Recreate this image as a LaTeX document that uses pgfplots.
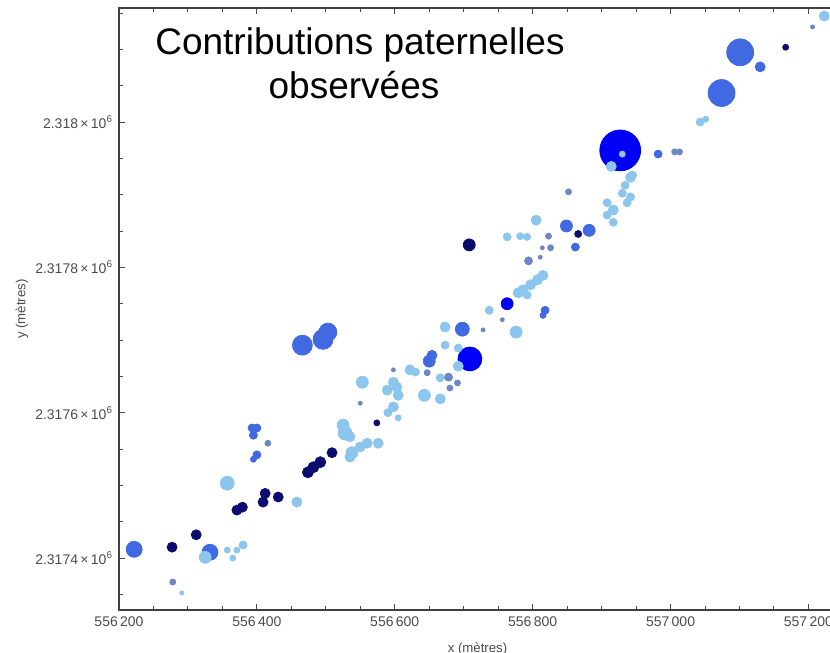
\documentclass[border=0pt]{standalone}
\usepackage{fontspec}
\setmainfont{Liberation Sans}
\usepackage{pgfplots}
\pgfplotsset{compat=1.18}
\usepackage{pgfplotstable}

\definecolor{cL}{RGB}{140,198,238}
\definecolor{cM}{RGB}{65,105,225}
\definecolor{cB}{RGB}{0,0,245}
\definecolor{cN}{RGB}{12,12,110}
\definecolor{cG}{RGB}{110,135,195}

\pgfplotsset{bub/.style={scatter, only marks, mark=*,
  scatter/use mapped color={draw=#1, fill=#1},
  visualization depends on={0.5*\thisrow{s} \as \rad},
  scatter/@pre marker code/.append style={/tikz/mark size=\rad}}}

\pgfplotstableread{
x y s
556930 2317956 3
556914 2317939 5
556942 2317924 5
556945 2317927 4
556934 2317913 4
556930 2317902 4
556942 2317897 4
556937 2317889 4
556908 2317889 4
556917 2317879 5
556908 2317872 4
556917 2317862 4
557043 2318000 4
557051 2318004 3
557223 2318146 5
556805 2317865 5
556763 2317842 4
556782 2317843 3.5
556792 2317842 3.5
556815 2317789 5
556807 2317783 5
556797 2317776 5
556786 2317769 5
556779 2317765 5
556792 2317762 4
556737 2317741 4
556776 2317711 6
556673 2317718 5
556673 2317693 4
556692 2317689 4
556692 2317664 5
556622 2317659 5
556630 2317656 4
556666 2317648 4
556643 2317624 6
556666 2317619 5
556553 2317642 6
556598 2317642 5
556603 2317635 5
556589 2317631 5
556605 2317624 5
556598 2317608 5
556590 2317600 4
556605 2317593 3
556525 2317583 6
556528 2317572 7
556535 2317567 5
556560 2317558 5
556576 2317558 5
556550 2317553 5
556538 2317545 6
556535 2317539 5
556357 2317503 7
556458 2317477 5
556325 2317401 6
556357 2317411 3
556371 2317411 3
556380 2317418 4
556365 2317400 3
556291 2317352 2
}\dataL

\pgfplotstableread{
x y s
557074 2318040 13.5
557101 2318096 13.5
557130 2318076 5
556982 2317956 4
556849 2317857 6
556882 2317851 6
556862 2317828 4
556698 2317715 7
556650 2317671 6
556654 2317679 5
556466 2317693 10
556496 2317701 10
556503 2317711 9
556222 2317412 8
556332 2317408 8
556393 2317579 4
556400 2317579 4
556395 2317569 4
556400 2317542 4
556395 2317536 3
556818 2317741 4
556815 2317734 3
}\dataM

\pgfplotstableread{
x y s
556927 2317961 20.5
556709 2317674 12
556763 2317750 6
}\dataB

\pgfplotstableread{
x y s
557167 2318103 3
556866 2317846 3.5
556708 2317831 6
556574 2317586 3
556509 2317545 5
556492 2317532 5.5
556482 2317525 5.5
556474 2317518 5.5
556412 2317489 5
556409 2317477 5
556431 2317484 5
556371 2317466 5
556379 2317470 5
556312 2317432 5
556277 2317415 5
}\dataN

\pgfplotstableread{
x y s
557206 2318131 2
557006 2317959 3
557013 2317959 3
556852 2317904 3
556823 2317843 3
556826 2317827 3
556814 2317827 2
556811 2317814 2
556794 2317809 4
556756 2317728 2
556728 2317714 2
556647 2317655 3
556678 2317649 4
556691 2317641 3
556680 2317634 3
556598 2317659 2
556550 2317613 2
556416 2317558 3
556278 2317367 3
}\dataG

\begin{document}
\begin{tikzpicture}
\begin{axis}[
  at={(0,0)}, anchor=south west,
  scale only axis, width=358.5bp, height=301bp,
  xmin=556200, xmax=557240, ymin=2317328.5, ymax=2318157,
  scaled ticks=false,
  xtick={556200,556400,556600,556800,557000,557200},
  xticklabels={556\,200,556\,400,556\,600,556\,800,557\,000,557\,200},
  ytick={2317400,2317600,2317800,2318000},
  yticklabels={2.3174\,\texttimes\,10\textsuperscript{6},2.3176\,\texttimes\,10\textsuperscript{6},2.3178\,\texttimes\,10\textsuperscript{6},2.318\,\texttimes\,10\textsuperscript{6}},
  minor xtick={556250,556300,556350,556450,556500,556550,556650,556700,556750,556850,556900,556950,557050,557100,557150},
  minor ytick={2317350,2317450,2317500,2317550,2317650,2317700,2317750,2317850,2317900,2317950,2318050,2318100,2318150},
  tick align=inside,
  major tick length=3bp, minor tick length=1.8bp,
  every tick/.style={black!70, line width=0.5pt},
  axis line style={black!75, line width=0.7pt},
  tick label style={font=\fontsize{7bp}{8bp}\selectfont, text=black!70},
  yticklabel style={xshift=0.5bp},
  xlabel={x (mètres)}, ylabel={y (mètres)},
  label style={font=\fontsize{6.6bp}{7.6bp}\selectfont, text=black!70},
  xlabel style={at={(axis description cs:0.5,-0.064)}, anchor=center},
  ylabel style={at={(axis description cs:-0.1353,0.5)}, anchor=center},
]
\addplot[bub=cB] table {\dataB};
\addplot[bub=cM] table {\dataM};
\addplot[bub=cN] table {\dataN};
\addplot[bub=cL] table {\dataL};
\addplot[bub=cG] table {\dataG};
\end{axis}
\node[anchor=base, font=\fontsize{18.5bp}{22bp}\selectfont] at (120.5bp,277.5bp) {Contributions paternelles};
\node[anchor=base, font=\fontsize{18.5bp}{22bp}\selectfont] at (117.5bp,255.5bp) {observées};
\pgfresetboundingbox
\path[use as bounding box] (-59.5bp,-21.5bp) rectangle (355.5bp,305bp);
\end{tikzpicture}
\end{document}
